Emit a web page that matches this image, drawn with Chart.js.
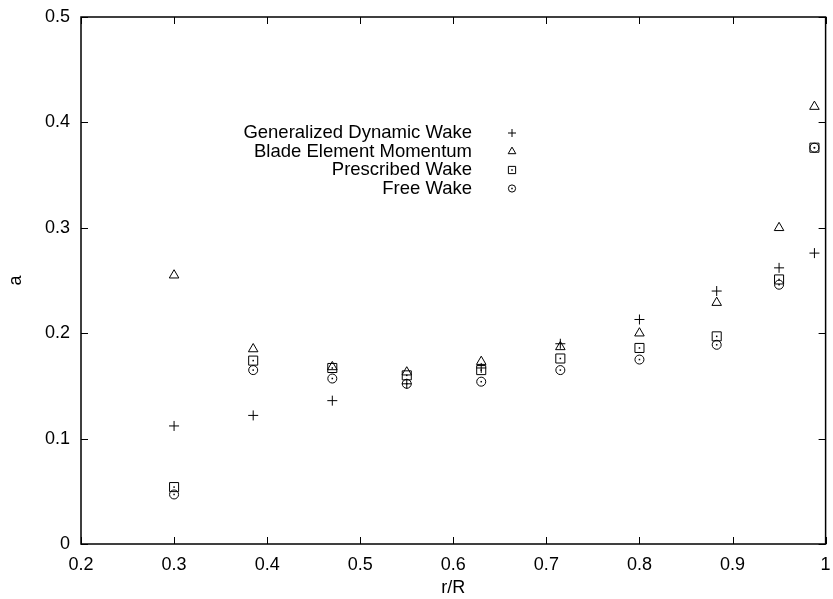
<!DOCTYPE html>
<html>
<head>
<meta charset="utf-8">
<script src="https://cdn.jsdelivr.net/npm/chart.js@4/dist/chart.umd.min.js"></script>
<style>
  html, body { margin: 0; padding: 0; background: #fff; }
  #wrap { width: 833px; height: 599px; position: relative; }
</style>
</head>
<body>
<div id="wrap"><canvas id="c"></canvas></div>
<script>
// r/R positions
const radius = [0.3, 0.385, 0.47, 0.55, 0.63, 0.715, 0.8, 0.883, 0.95, 0.988];
// induction factor a for each method
const gdw = [0.112, 0.122, 0.136, 0.152, 0.167, 0.190, 0.213, 0.240, 0.262, 0.276];
const bem = [0.255, 0.185, 0.168, 0.163, 0.173, 0.187, 0.200, 0.229, 0.300, 0.415];
const prescribed = [0.054, 0.174, 0.167, 0.160, 0.165, 0.176, 0.186, 0.197, 0.251, 0.376];
const free = [0.047, 0.165, 0.157, 0.152, 0.154, 0.165, 0.175, 0.189, 0.246, 0.376];

const names = ['Generalized Dynamic Wake', 'Blade Element Momentum', 'Prescribed Wake', 'Free Wake'];
const xTicks = [0.2, 0.3, 0.4, 0.5, 0.6, 0.7, 0.8, 0.9, 1];
const yTicks = [0, 0.1, 0.2, 0.3, 0.4, 0.5];

const FONT = 'Liberation Sans, Arial, Helvetica, sans-serif';
const styles = [
  {pointStyle: 'cross', radius: 5},
  {pointStyle: 'triangle', radius: 5.5},
  {pointStyle: 'rect', radius: 6.4},
  {pointStyle: 'circle', radius: 4.5}
];

function pts(ys) {
  return radius.map((r, i) => ({x: r, y: ys[i]}));
}

function drawMarker(ctx, style, r, x, y) {
  ctx.beginPath();
  if (style === 'cross') {
    ctx.moveTo(x - r, y); ctx.lineTo(x + r, y);
    ctx.moveTo(x, y - r); ctx.lineTo(x, y + r);
  } else if (style === 'triangle') {
    ctx.moveTo(x, y - r);
    ctx.lineTo(x + r * 0.866, y + r / 2);
    ctx.lineTo(x - r * 0.866, y + r / 2);
    ctx.closePath();
  } else if (style === 'rect') {
    const s = r * Math.SQRT1_2;
    ctx.rect(x - s, y - s, 2 * s, 2 * s);
  } else {
    ctx.arc(x, y, r, 0, Math.PI * 2);
  }
  ctx.stroke();
  if (style === 'rect' || style === 'circle') {
    ctx.fillRect(x - 0.75, y - 0.75, 1.5, 1.5);
  }
}

const gnuplotFrame = {
  id: 'gnuplotFrame',
  afterDatasetsDraw(chart) {
    const {ctx, chartArea: a, scales: {x, y}} = chart;
    ctx.save();
    ctx.strokeStyle = '#000';
    ctx.fillStyle = '#000';
    ctx.lineWidth = 1.5;
    ctx.strokeRect(a.left, a.top, a.right - a.left, a.bottom - a.top);
    ctx.lineWidth = 1;
    ctx.beginPath();
    xTicks.forEach(v => {
      const px = Math.round(x.getPixelForValue(v)) + 0.5;
      ctx.moveTo(px, a.bottom); ctx.lineTo(px, a.bottom - 7);
      ctx.moveTo(px, a.top); ctx.lineTo(px, a.top + 7);
    });
    yTicks.forEach(v => {
      const py = Math.round(y.getPixelForValue(v)) + 0.5;
      ctx.moveTo(a.left, py); ctx.lineTo(a.left + 7, py);
      ctx.moveTo(a.right, py); ctx.lineTo(a.right - 7, py);
    });
    ctx.stroke();

    // centre dots of squares and circles
    [2, 3].forEach(i => {
      chart.getDatasetMeta(i).data.forEach(p => {
        ctx.fillRect(p.x - 0.75, p.y - 0.75, 1.5, 1.5);
      });
    });

    // key, gnuplot style: right-aligned text then marker
    ctx.font = '18.5px ' + FONT;
    ctx.textAlign = 'right';
    ctx.textBaseline = 'middle';
    names.forEach((n, i) => {
      const ty = 133 + i * 18.5;
      ctx.fillText(n, 472, ty);
      drawMarker(ctx, styles[i].pointStyle, styles[i].pointStyle === 'cross' ? 4 : styles[i].radius * 0.8, 512, ty);
    });
    ctx.restore();
  }
};

const datasets = [gdw, bem, prescribed, free].map((ys, i) => ({
  label: names[i],
  data: pts(ys),
  pointStyle: styles[i].pointStyle,
  pointRadius: styles[i].radius,
  pointHoverRadius: styles[i].radius,
  pointBorderColor: '#000',
  pointBackgroundColor: 'rgba(0,0,0,0)',
  pointBorderWidth: 1,
  showLine: false
}));

new Chart(document.getElementById('c').getContext('2d'), {
  type: 'scatter',
  data: {datasets: datasets},
  options: {
    responsive: true,
    maintainAspectRatio: false,
    animation: false,
    layout: {padding: {top: 17, right: 4, left: 0, bottom: 0}},
    plugins: {legend: {display: false}, tooltip: {enabled: false}},
    scales: {
      x: {
        type: 'linear', min: 0.2, max: 1,
        afterBuildTicks: s => { s.ticks = xTicks.map(v => ({value: v})); },
        afterFit: s => { s.height = 55; s.paddingLeft = 0; s.paddingRight = 0; },
        grid: {display: false, drawTicks: false},
        border: {display: false},
        ticks: {
          color: '#000', padding: 10, maxRotation: 0,
          font: {family: FONT, size: 18},
          callback: v => String(Math.round(v * 10) / 10)
        },
        title: {display: true, text: 'r/R', color: '#000', padding: {top: 0, bottom: 0}, font: {family: FONT, size: 18}}
      },
      y: {
        type: 'linear', min: 0, max: 0.5,
        afterBuildTicks: s => { s.ticks = yTicks.map(v => ({value: v})); },
        afterFit: s => { s.width = 81; s.paddingTop = 0; s.paddingBottom = 0; },
        grid: {display: false, drawTicks: false},
        border: {display: false},
        ticks: {
          color: '#000', padding: 11,
          font: {family: FONT, size: 18},
          callback: v => String(Math.round(v * 10) / 10)
        },
        title: {display: true, text: 'a', color: '#000', padding: {top: 5, bottom: 0}, font: {family: FONT, size: 18}}
      }
    }
  },
  plugins: [gnuplotFrame]
});
</script>
</body>
</html>
